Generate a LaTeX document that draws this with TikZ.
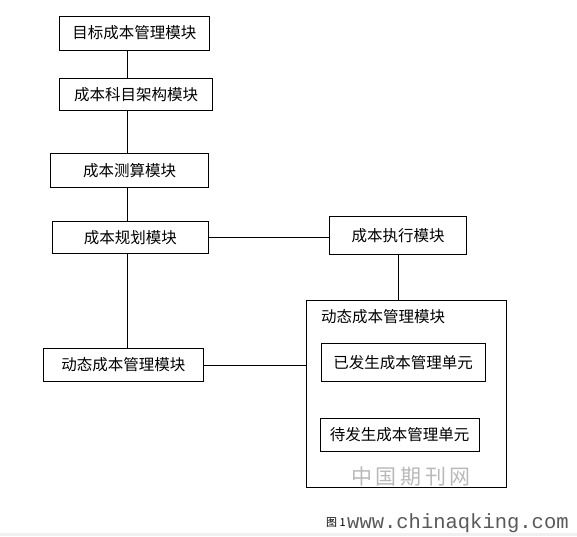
\documentclass[tikz,border=0pt]{standalone}
\usepackage{fontspec}
\setmainfont{Noto Sans CJK SC}
\newfontfamily\markfont{Liberation Mono}
\usetikzlibrary{positioning,calc}
\tikzset{
  modbox/.style={draw, line width=1pt, inner sep=0pt, font=\fontsize{15.5}{15.5}\selectfont},
  link/.style={line width=1pt}
}

\begin{document}
\begin{tikzpicture}[x=1pt, y=-1pt]
  \useasboundingbox (0,0) rectangle (577,536);
  \fill[gray!12] (0,533) rectangle (577,536);

  % 左侧模块
  \node[modbox, minimum width=150pt, minimum height=34pt] (target) at (134.3,33) {目标成本管理模块};
  \node[modbox, minimum width=153pt, minimum height=32pt] (subject) at (136,94.2) {成本科目架构模块};
  \node[modbox, minimum width=158pt, minimum height=34pt] (calc) at (129.5,170.3) {成本测算模块};
  \node[modbox, minimum width=156pt, minimum height=32pt] (plan) at (130.3,237.5) {成本规划模块};
  \node[modbox, minimum width=160pt, minimum height=33pt] (dynleft) at (123.3,365) {动态成本管理模块};
  \coordinate (spine) at (127,0);

  % 右侧模块
  \node[modbox, minimum width=137pt, minimum height=38pt] (exec) at (398,235.8) {成本执行模块};
  \node[modbox, minimum width=200pt, minimum height=187pt] (dynbox) at (406.7,394) {};
  \node[font=\fontsize{15.5}{15.5}\selectfont, anchor=west, inner sep=0pt] (dyntitle) at (321,317) {动态成本管理模块};
  \node[modbox, minimum width=164pt, minimum height=38pt] (spent) at (403,362.8) {已发生成本管理单元};
  \node[modbox, minimum width=159pt, minimum height=33pt] (pending) at (399.7,435) {待发生成本管理单元};

  % 连线
  \draw[link] (target.south -| spine) -- (subject.north -| spine);
  \draw[link] (subject.south -| spine) -- (calc.north -| spine);
  \draw[link] (calc.south -| spine) -- (plan.north -| spine);
  \draw[link] (plan.south -| spine) -- (dynleft.north -| spine);
  \draw[link] (plan.east) -- (plan.east -| exec.west);
  \draw[link] (exec.south) -- (exec.south |- dynbox.north);
  \draw[link] (dynleft.east) -- (dynleft.east -| dynbox.west);

  % 水印与图题
  \node[gray!55, font=\fontsize{21}{21}\selectfont, inner sep=0pt] (wmark) at (411,477) {中\,国\,期\,刊\,网};
  \node[anchor=east, inner sep=0pt, font=\fontsize{11}{11}\selectfont] (caption) at (346,523) {图 1};
  \node[anchor=west, inner sep=0pt, gray!70!black, font=\markfont\fontsize{20.5}{20.5}\selectfont] (site) at (347,523) {www.chinaqking.com};
\end{tikzpicture}
\end{document}
